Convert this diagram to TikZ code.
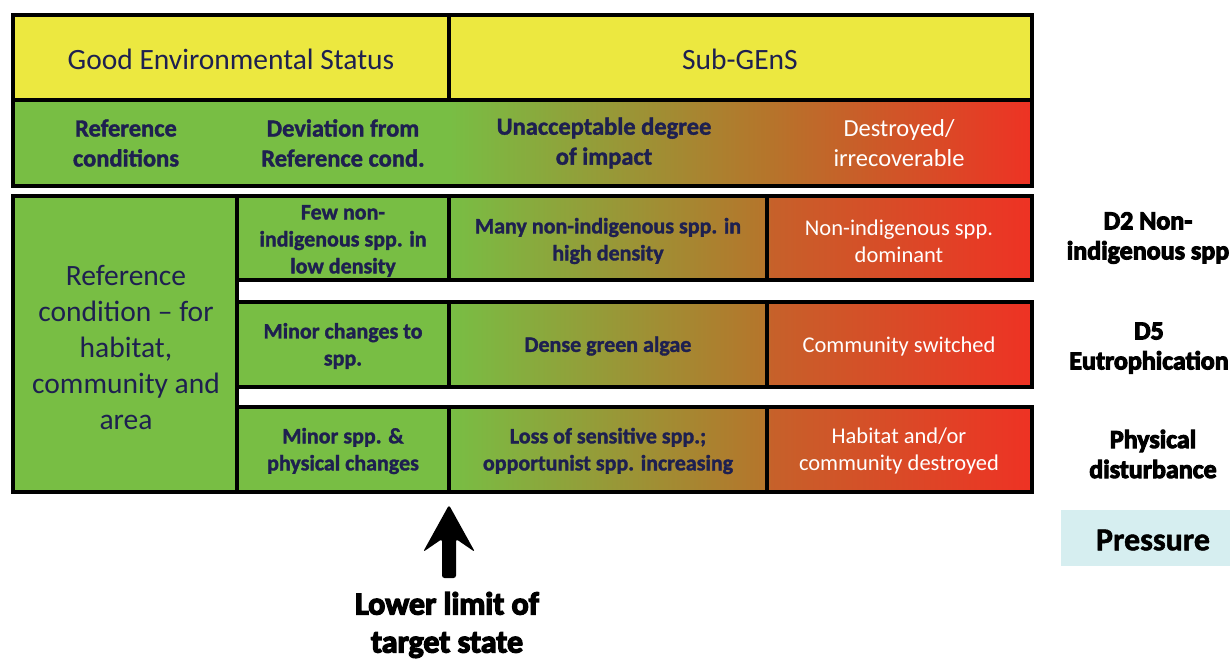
\documentclass[tikz,border=0pt]{standalone}
\usepackage{fontspec}
\setmainfont{Carlito}
\newfontfamily\heavy{Carlito}[BoldFeatures={FakeBold=4}]
\newfontfamily\semiheavy{Carlito}[BoldFeatures={FakeBold=1.5}]
\definecolor{cyel}{RGB}{236,232,64}
\definecolor{cg}{RGB}{120,190,68}
\definecolor{cbrown}{RGB}{181,117,43}
\definecolor{corange}{RGB}{198,97,42}
\definecolor{cred}{RGB}{238,50,36}
\definecolor{cnavy}{RGB}{30,32,80}
\definecolor{cpress}{RGB}{214,238,240}
\pgfdeclarehorizontalshading{gyr}{100bp}{color(0bp)=(cg); color(25bp)=(cg); color(52.1bp)=(cbrown); color(52.6bp)=(corange); color(75bp)=(cred); color(100bp)=(cred)}
\pgfdeclarehorizontalshading{hgyr}{100bp}{color(0bp)=(cg); color(25bp)=(cg); color(52.3bp)=(cbrown); color(75bp)=(cred); color(100bp)=(cred)}
\tikzset{
  bd/.style={line width=4pt, line join=miter},
  hdr/.style={inner sep=0pt, align=center, text=cnavy, font=\fontsize{29.5}{35}\selectfont},
  subhd/.style={inner sep=0pt, align=center, text=cnavy, font=\fontsize{24.5}{30}\selectfont\semiheavy\bfseries},
  subhdw/.style={inner sep=0pt, align=center, text=white, font=\fontsize{24.5}{30}\selectfont},
  bigtxt/.style={inner sep=0pt, align=center, text=cnavy, font=\fontsize{29.5}{36}\selectfont},
  cellb/.style={inner sep=0pt, align=center, text=cnavy, font=\fontsize{22}{27}\selectfont\semiheavy\bfseries},
  cellw/.style={inner sep=0pt, align=center, text=white, font=\fontsize{22.5}{27}\selectfont},
  prs/.style={inner sep=0pt, align=center, text=black, font=\fontsize{26}{30}\selectfont\heavy\bfseries},
  lowtxt/.style={inner sep=0pt, align=center, text=black, font=\fontsize{32}{38}\selectfont\heavy\bfseries},
}
\begin{document}
\begin{tikzpicture}[x=1pt,y=-1pt]
\useasboundingbox (0,0) rectangle (1230,659);
\clip (0,0) rectangle (1230,659);
% header block
\fill[cyel] (13,15) rectangle (1032,100);
\fill[cg] (13,100) rectangle (449,186);
\shade[shading=hgyr] (449,100) rectangle (1032,186);
\draw[bd] (13,15) rectangle (1032,186);
\draw[bd] (13,100) -- (1032,100);
\draw[bd] (449,15) -- (449,100);
\node[hdr] (ges) at (231,59) {Good Environmental Status};
\node[hdr] (sub) at (740,59) {Sub-GEnS};
\node[subhd] (refc) at (126,143) {Reference\\conditions};
\node[subhd] (devc) at (343,143) {Deviation from\\Reference cond.};
\node[subhd] (unac) at (604,143) {Unacceptable degree\\of impact};
\node[subhdw] (desc) at (899,143) {Destroyed/\\irrecoverable};
% lower block
\fill[cg] (13,196) rectangle (237,492);
\foreach \ya/\yb in {196/280, 302/387, 407/492}{
  \fill[cg] (237,\ya) rectangle (449,\yb);
  \shade[shading=gyr] (449,\ya) rectangle (1032,\yb);
  \draw[bd] (237,\ya) rectangle (1032,\yb);
  \draw[bd] (449,\ya) -- (449,\yb);
  \draw[bd] (767,\ya) -- (767,\yb);
}
\draw[bd] (13,196) rectangle (237,492);
\node[bigtxt] (left) at (126,347) {Reference\\condition – for\\habitat,\\community and\\area};
\node[cellb] (r1a) at (343,241) {Few non-\\indigenous spp. in\\low density};
\node[cellb] (r1b) at (608,241) {Many non-indigenous spp. in\\high density};
\node[cellw] (r1c) at (899,241) {Non-indigenous spp.\\dominant};
\node[cellb] (r2a) at (343,346) {Minor changes to\\spp.};
\node[cellb] (r2b) at (608,346) {Dense green algae};
\node[cellw] (r2c) at (899,346) {Community switched};
\node[cellb] (r3a) at (343,451) {Minor spp. \&\\physical changes};
\node[cellb] (r3b) at (608,451) {Loss of sensitive spp.;\\opportunist spp. increasing};
\node[cellw] (r3c) at (899,451) {Habitat and/or\\community destroyed};
% pressures
\node[prs] (p1) at (1148,238) {D2 Non-\\indigenous spp};
\node[prs] (p2) at (1149,348) {D5\\Eutrophication};
\node[prs] (p3) at (1153,454) {Physical\\disturbance};
\fill[cpress] (1061,510) rectangle (1230,566);
\node[inner sep=0pt, font=\fontsize{32}{36}\selectfont\semiheavy\bfseries] (pr) at (1153,540) {Pressure};
% arrow
\fill[rounded corners=2.5pt] (449,505) -- (475,552) -- (456,539) -- (456,578) -- (442,578) -- (442,539) -- (423,552) -- cycle;
\node[lowtxt] (ll) at (447,625) {Lower limit of\\target state};
\end{tikzpicture}
\end{document}
